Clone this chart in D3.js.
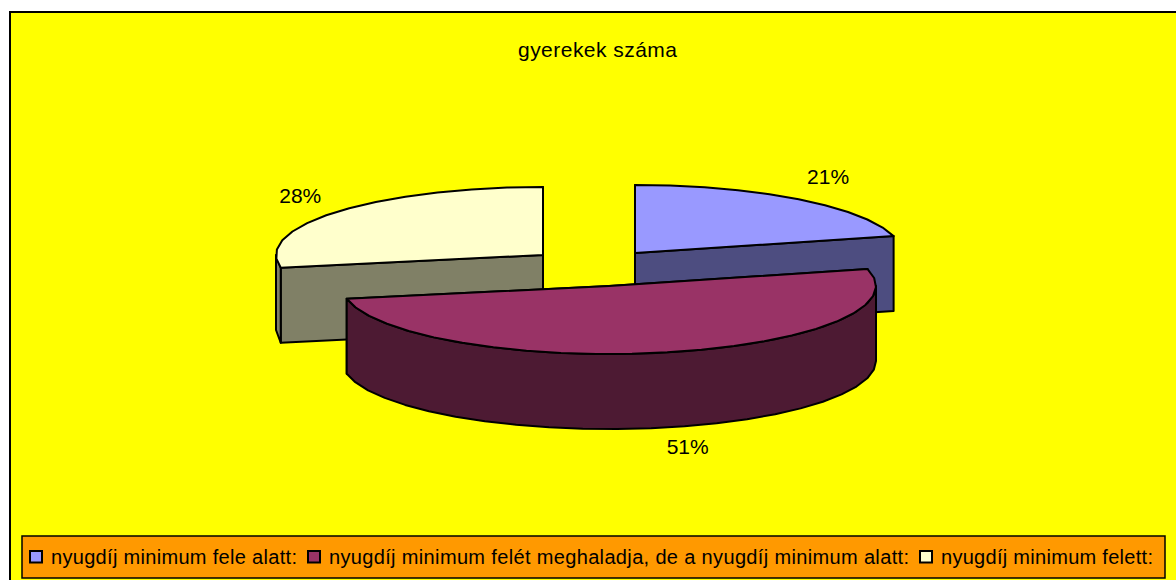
<!DOCTYPE html>
<html lang="hu">
<head>
<meta charset="UTF-8">
<title>gyerekek száma</title>
<script src="https://d3js.org/d3.v7.min.js"></script>
<style>
  html, body { margin: 0; padding: 0; background: #fff; }
  svg { display: block; }
  text { font-family: "Liberation Sans", Arial, sans-serif; fill: #000; }
</style>
</head>
<body>
<div id="chart"></div>
<script>
const title = "gyerekek száma";
const categories = ["nyugdíj minimum fele alatt:", "nyugdíj minimum felét meghaladja, de a nyugdíj minimum alatt:", "nyugdíj minimum felett:"];
const values = [21, 51, 28];
const topColors = ["#9999ff", "#993366", "#ffffcc"];
const sideColors = ["#4d4d80", "#4d1a33", "#808066"];

const width = 1176, height = 580;
const svg = d3.select("#chart").append("svg").attr("width", width).attr("height", height);

// chart area
svg.append("rect").attr("x", 10).attr("y", 12).attr("width", 1180).attr("height", 580)
  .attr("fill", "#ffff00").attr("stroke", "#000").attr("stroke-width", 2);

svg.append("text").attr("x", 597.5).attr("y", 57).attr("text-anchor", "middle")
  .attr("font-size", 21).attr("textLength", 159).attr("lengthAdjust", "spacing").text(title);

// flattened pie: angles come from d3.pie, then get squashed onto an ellipse
const rx = 267, ry = 68, depth = 75;
const total = d3.sum(values);
const arcs = d3.pie().sort(null)(values);
const centers = [[635, 253], [609, 286], [543, 255]];

const pt = (c, a, dy = 0) => [c[0] + rx * Math.sin(a), c[1] - ry * Math.cos(a) + dy];
const line = d3.line();
const step = Math.PI / 24;

function rim(c, a0, a1, dy = 0) {
  const n = Math.max(1, Math.round((a1 - a0) / step));
  return d3.range(n + 1).map(i => pt(c, a0 + (a1 - a0) * i / n, dy));
}

function drawSlice(i) {
  const d = arcs[i], c = centers[i];
  const g = svg.append("g").attr("stroke", "#000").attr("stroke-width", 2).attr("stroke-linejoin", "round");
  const side = sideColors[i], face = topColors[i];
  const s = pt(c, d.startAngle), e = pt(c, d.endAngle);

  // cut faces
  [s, e].forEach(p => {
    g.append("path").attr("fill", side)
      .attr("d", line([c, p, [p[0], p[1] + depth], [c[0], c[1] + depth]]) + "Z");
  });
  // outer wall, only the part that faces the viewer
  const a0 = Math.max(d.startAngle, Math.PI / 2), a1 = Math.min(d.endAngle, Math.PI * 1.5);
  if (a1 > a0) {
    g.append("path").attr("fill", side)
      .attr("d", line(rim(c, a0, a1).concat(rim(c, a0, a1, depth).reverse())) + "Z");
  }
  // top
  g.append("path").attr("fill", face)
    .attr("d", line([c].concat(rim(c, d.startAngle, d.endAngle))) + "Z");
}

// back slices first, the big front one last
[2, 0, 1].forEach(drawSlice);

// percent labels
const labelRx = 315, labelRy = 93;
const labelNudge = [[0, -2], [10, -4], [0, 1]];
const pct = d3.format(".0%");
arcs.forEach((d, i) => {
  const mid = (d.startAngle + d.endAngle) / 2;
  const front = Math.cos(mid) < 0 ? depth : 0;
  svg.append("text")
    .attr("x", centers[i][0] + labelRx * Math.sin(mid) + labelNudge[i][0])
    .attr("y", centers[i][1] - labelRy * Math.cos(mid) + front + labelNudge[i][1] + 6)
    .attr("text-anchor", "middle")
    .attr("font-size", 21)
    .text(pct(d.value / total));
});

// legend
const legend = svg.append("g");
legend.append("rect").attr("x", 22).attr("y", 536).attr("width", 1143).attr("height", 42)
  .attr("fill", "#ff9900").attr("stroke", "#000").attr("stroke-width", 1.5);
const legendX = [30, 308, 920];
const legendTextX = [51, 329, 941];
const legendW = [246, 580, 212];
categories.forEach((name, i) => {
  legend.append("rect").attr("x", legendX[i]).attr("y", 551).attr("width", 12).attr("height", 11.5)
    .attr("fill", topColors[i]).attr("stroke", "#000").attr("stroke-width", 2);
  legend.append("text").attr("x", legendTextX[i]).attr("y", 564)
    .attr("font-size", 20).attr("textLength", legendW[i]).attr("lengthAdjust", "spacing")
    .text(name);
});
</script>
</body>
</html>
